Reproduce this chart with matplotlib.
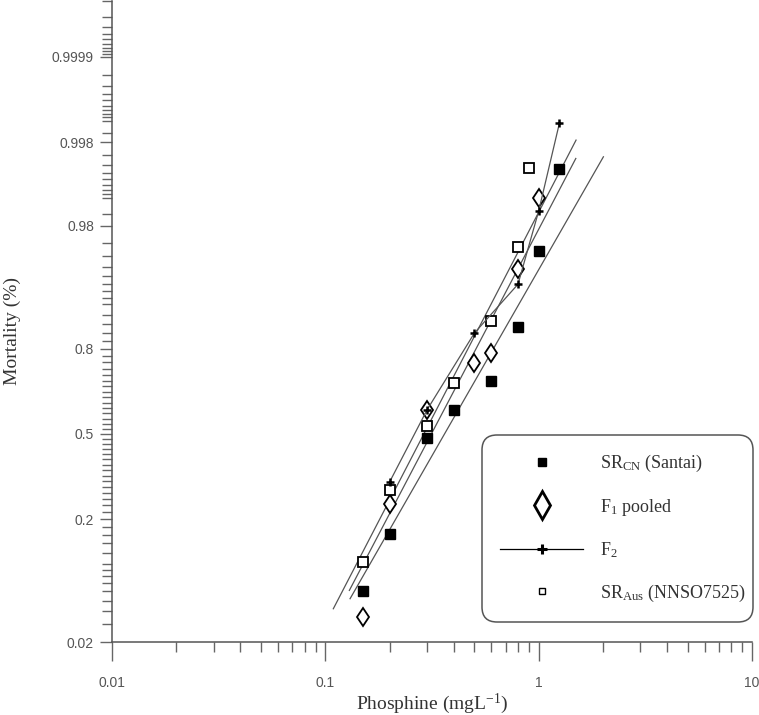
#Probit plot of mortality against phosphine concentration for four strains.
import math

import numpy as np
from matplotlib import pyplot as plt
from matplotlib.lines import Line2D
from matplotlib.patches import FancyBboxPatch


#Observed mortality (fraction) at each phosphine concentration (mg/L)
conc_cn = [0.15, 0.2, 0.3, 0.4, 0.6, 0.8, 1.0, 1.25]
mort_cn = [0.060, 0.162, 0.485, 0.592, 0.699, 0.854, 0.964, 0.9955]

conc_f1 = [0.15, 0.2, 0.3, 0.5, 0.6, 0.8, 1.0]
mort_f1 = [0.035, 0.245, 0.594, 0.758, 0.787, 0.9475, 0.990]

conc_f2 = [0.2, 0.3, 0.5, 0.8, 1.0, 1.25]
mort_f2 = [0.317, 0.594, 0.840, 0.930, 0.986, 0.9989]

conc_aus = [0.15, 0.2, 0.3, 0.4, 0.6, 0.8, 0.9]
mort_aus = [0.103, 0.2885, 0.5295, 0.692, 0.8666, 0.9674, 0.9956]

#Fitted probit lines, given by their two end points (straight on these axes)
fit_conc_cn = [0.1306, 2.011]
fit_mort_cn = [0.0519, 0.99686]
fit_conc_f1 = [0.1296, 1.493]
fit_mort_f1 = [0.0612, 0.9967]
fit_conc_aus = [0.109, 1.497]
fit_mort_aus = [0.0422, 0.99812]

#Axis ticks
x_ticks = [0.01, 0.1, 1, 10]
x_labels = ['0.01', '0.1', '1', '10']
y_ticks = [0.02, 0.2, 0.5, 0.8, 0.98, 0.998, 0.9999]
y_labels = ['0.02', '0.2', '0.5', '0.8', '0.98', '0.998', '0.9999']
y_minor = ([i / 100 for i in range(3, 10)] + [i / 100 for i in range(10, 91, 2)]
           + [i / 100 for i in range(91, 100)] + [0.985]
           + [i / 1000 for i in range(991, 1000)] + [0.9985]
           + [i / 10000 for i in range(9991, 10000)]
           + [i / 100000 for i in range(99991, 100000)])


#Inverse normal CDF (Acklam's rational approximation) for the probit scale
A = [-3.969683028665376e+01, 2.209460984245205e+02, -2.759285104469687e+02,
     1.383577518672690e+02, -3.066479806614716e+01, 2.506628277459239e+00]
B = [-5.447609879822406e+01, 1.615858368580409e+02, -1.556989798598866e+02,
     6.680131188771972e+01, -1.328068155288572e+01]
C = [-7.784894002430293e-03, -3.223964580411365e-01, -2.400758277161838e+00,
     -2.549732539343734e+00, 4.374664141464968e+00, 2.938163982698783e+00]
D = [7.784695709041462e-03, 3.224671290700398e-01, 2.445134137142996e+00,
     3.754408181046423e+00]


def probit(p):
    p = np.clip(np.asarray(p, dtype=float), 1e-12, 1 - 1e-12)
    with np.errstate(all='ignore'):
        q = p - 0.5
        r = q * q
        mid = ((((((A[0]*r + A[1])*r + A[2])*r + A[3])*r + A[4])*r + A[5]) * q
               / (((((B[0]*r + B[1])*r + B[2])*r + B[3])*r + B[4])*r + 1))
        ql = np.sqrt(-2 * np.log(p))
        low = ((((((C[0]*ql + C[1])*ql + C[2])*ql + C[3])*ql + C[4])*ql + C[5])
               / ((((D[0]*ql + D[1])*ql + D[2])*ql + D[3])*ql + 1))
        qh = np.sqrt(-2 * np.log(1 - p))
        high = -((((((C[0]*qh + C[1])*qh + C[2])*qh + C[3])*qh + C[4])*qh + C[5])
                 / ((((D[0]*qh + D[1])*qh + D[2])*qh + D[3])*qh + 1))
    return np.where(p < 0.02425, low, np.where(p > 1 - 0.02425, high, mid))


_erf = np.vectorize(math.erf, otypes=[float])


def norm_cdf(z):
    z = np.asarray(z, dtype=float)
    return 0.5 * (1 + _erf(z / math.sqrt(2)))


plt.rcParams['mathtext.fontset'] = 'custom'
plt.rcParams['mathtext.rm'] = 'Liberation Serif'
plt.rcParams['mathtext.it'] = 'Liberation Serif:italic'

fig = plt.figure(figsize=(7.59, 7.15), dpi=100)
ax = fig.add_axes([112 / 759, 1 - 642 / 715, 640 / 759, 640.5 / 715])

ax.set_xscale('log')
ax.set_yscale('function', functions=(probit, norm_cdf))
ax.set_xlim(0.01, 10)
ax.set_ylim(0.02, 0.99999)

line_col = '#555555'
lw = 0.9

#Fitted lines
ax.plot(fit_conc_cn, fit_mort_cn, color=line_col, lw=lw, zorder=2)
ax.plot(fit_conc_f1, fit_mort_f1, color=line_col, lw=lw, zorder=2)
ax.plot(fit_conc_aus, fit_mort_aus, color=line_col, lw=lw, zorder=2)

#F2 joined by a line
ax.plot(conc_f2, mort_f2, color=line_col, lw=lw, marker='+', ms=6,
        mew=1.8, mec='black', zorder=4)

#Observed points
ax.plot(conc_cn, mort_cn, ls='none', marker='s', ms=6.5, mfc='black',
        mec='black', zorder=3)
ax.plot(conc_f1, mort_f1, ls='none', marker='d', ms=9.5, mfc='white',
        mec='black', mew=1.3, zorder=3)
ax.plot(conc_aus, mort_aus, ls='none', marker='s', ms=6.5, mfc='white',
        mec='black', mew=1.3, zorder=3)

#Axes styling
for side in ['top', 'right']:
    ax.spines[side].set_visible(False)
for side in ['left', 'bottom']:
    ax.spines[side].set_color('#555555')
    ax.spines[side].set_linewidth(1.1)

ax.set_xticks(x_ticks, x_labels)
ax.set_yticks(y_ticks, y_labels)
ax.set_yticks(y_minor, minor=True)
ax.tick_params(axis='both', which='both', direction='out', color='#666666',
               width=1.0, labelsize=10, labelcolor='#555555')
ax.tick_params(axis='x', which='major', length=14, pad=10.5)
ax.tick_params(axis='x', which='minor', length=7)
ax.tick_params(axis='y', which='major', length=9, pad=4)
ax.tick_params(axis='y', which='minor', length=7)
for lab in ax.get_xticklabels() + ax.get_yticklabels():
    lab.set_fontfamily('Liberation Sans')

ax.set_xlabel('Phosphine (mgL$^{\\mathrm{-1}}$)', fontsize=14,
              fontfamily='Liberation Serif', color='#333333', labelpad=1)
ax.set_ylabel('Mortality (%)', fontsize=14, fontfamily='Liberation Serif',
              color='#333333')
ax.yaxis.set_label_coords(-0.142, 0.485)

#Legend with its own handle sizes, framed by a rounded box
handles = [
    Line2D([], [], ls='none', marker='s', ms=5.8, mfc='black', mec='black'),
    Line2D([], [], ls='none', marker='d', ms=14, mfc='white', mec='black', mew=2),
    Line2D([], [], color='black', lw=0.9, marker='+', ms=7, mew=2.2, mec='black'),
    Line2D([], [], ls='none', marker='s', ms=5, mfc='white', mec='black', mew=1),
]
labels = ['SR$_{\\mathrm{CN}}$ (Santai)', 'F$_{\\mathrm{1}}$ pooled',
          'F$_{\\mathrm{2}}$', 'SR$_{\\mathrm{Aus}}$ (NNSO7525)']
leg = ax.legend(handles, labels, loc='upper left',
                bbox_to_anchor=(482 / 759, 1 - 435 / 715),
                bbox_transform=fig.transFigure, borderaxespad=0,
                prop={'family': 'Liberation Serif', 'size': 13},
                handlelength=4.6, handletextpad=0.95, borderpad=1.0,
                labelspacing=1.25, frameon=False)
leg.set_zorder(6)
for t in leg.get_texts():
    t.set_color('#333333')

box = FancyBboxPatch((4.82, 0.93), 2.71, 1.87, transform=fig.dpi_scale_trans,
                     boxstyle='round,pad=0,rounding_size=0.15',
                     facecolor='white', edgecolor='#555555', linewidth=1.1,
                     zorder=5, clip_on=False)
ax.add_patch(box)

fig.savefig('out.png', dpi=100)
